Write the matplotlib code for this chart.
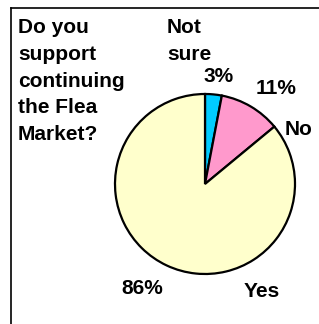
import matplotlib.pyplot as plt
from matplotlib.lines import Line2D

labels = ['Not\nsure', 'No', 'Yes']
values = [3, 11, 86]
pct_labels = ['3%', '11%', '86%']
colors = ['#00ccff', '#ff99cc', '#ffffcc']

W, H = 319, 324
fig = plt.figure(figsize=(W / 100, H / 100), dpi=100)
plt.rcParams['font.family'] = ['Liberation Sans', 'DejaVu Sans']

# frame (only top and left edges visible)
fig.add_artist(Line2D([11 / W, 11 / W], [0, 1 - 8 / H], color='black', lw=1.2))
fig.add_artist(Line2D([11 / W, 1], [1 - 8 / H, 1 - 8 / H], color='black', lw=1.2))

# pie axes: center (205,184), radius ~90 px
r = 90
cx, cy = 205, 184
ax = fig.add_axes([(cx - r) / W, 1 - (cy + r) / H, 2 * r / W, 2 * r / H])
ax.pie(values, colors=colors, startangle=90, counterclock=False,
       wedgeprops=dict(edgecolor='black', linewidth=1.6))
ax.set_xlim(-1, 1)
ax.set_ylim(-1, 1)
ax.set_aspect('auto')

fs = 15
ls = 1.52
def px(x, y):
    return x / W, 1 - y / H

fig.text(*px(18, 18), 'Do you\nsupport\ncontinuing\nthe Flea\nMarket?',
         fontsize=fs, fontweight='bold', va='top', ha='left', linespacing=ls)
fig.text(*px(167, 18), labels[0], fontsize=fs, fontweight='bold',
         va='top', ha='left', linespacing=ls)
fig.text(*px(203, 67), pct_labels[0], fontsize=fs, fontweight='bold', va='top', ha='left')
fig.text(*px(256, 79), pct_labels[1], fontsize=fs, fontweight='bold', va='top', ha='left')
fig.text(*px(285, 120), labels[1], fontsize=fs, fontweight='bold', va='top', ha='left')
fig.text(*px(121, 279), pct_labels[2], fontsize=fs, fontweight='bold', va='top', ha='left')
fig.text(*px(244, 282), labels[2], fontsize=fs, fontweight='bold', va='top', ha='left')

fig.savefig('out.png', dpi=100)
